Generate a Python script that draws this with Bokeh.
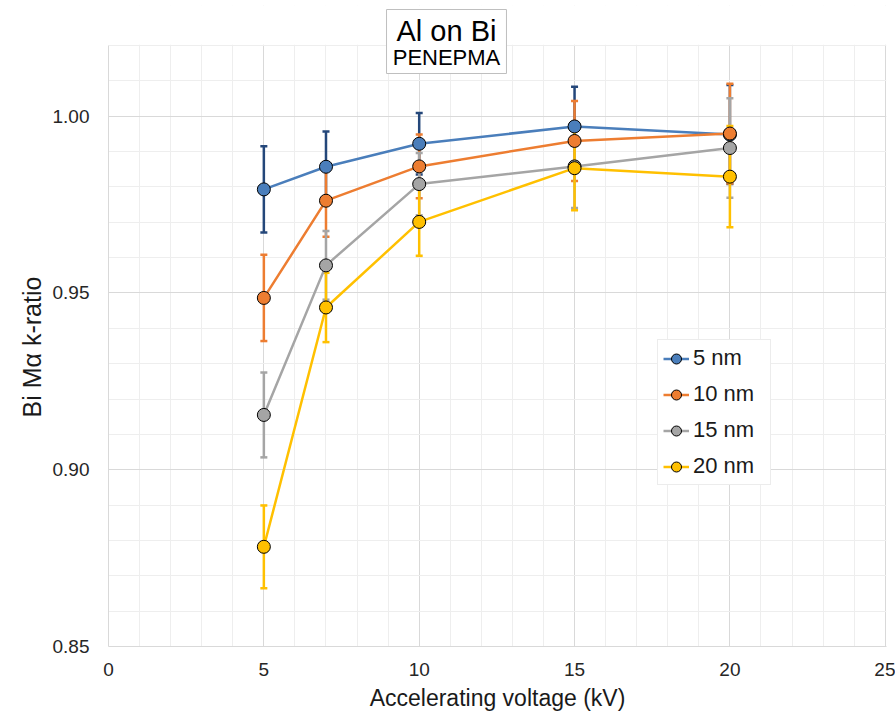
from bokeh.plotting import figure
from bokeh.models import (Range1d, FixedTicker, NumeralTickFormatter, Legend,
                          LegendItem, Label, Title)
from bokeh.embed import file_html
from bokeh.resources import INLINE

# ---- data ----
voltage_kv = [5, 7, 10, 15, 20]
series_names = ["5 nm", "10 nm", "15 nm", "20 nm"]
k_5nm = [0.9793, 0.9857, 0.9922, 0.9971, 0.9948]
k_10nm = [0.9486, 0.9761, 0.9858, 0.9930, 0.9951]
k_15nm = [0.9155, 0.9578, 0.9808, 0.9858, 0.9910]
k_20nm = [0.8782, 0.9459, 0.9701, 0.9853, 0.9829]
err_5nm = [0.0122, 0.0100, 0.0087, 0.0112, 0.0140]
err_10nm = [0.0122, 0.0102, 0.0090, 0.0113, 0.0141]
err_15nm = [0.0120, 0.0097, 0.0088, 0.0118, 0.0141]
err_20nm = [0.0117, 0.0098, 0.0096, 0.0119, 0.0143]
x_ticks = [0, 5, 10, 15, 20, 25]
x_minor_ticks = list(range(0, 26))
y_ticks = [0.85, 0.90, 0.95, 1.00]
y_minor_ticks = [0.86, 0.87, 0.88, 0.89, 0.91, 0.92, 0.93, 0.94, 0.96, 0.97,
                 0.98, 0.99, 1.01, 1.02]
x_min, x_max = 0, 25
y_min, y_max = 0.85, 1.02

values = [k_5nm, k_10nm, k_15nm, k_20nm]
errors = [err_5nm, err_10nm, err_15nm, err_20nm]
line_colors = ["#4a7ebb", "#ed7d31", "#a5a5a5", "#ffc000"]
err_colors = ["#24477a", "#ed7d31", "#a5a5a5", "#ffc000"]

FONT = "Liberation Sans"

# layout (pixels): plot area spans y 45..646; the frame is extended up to
# y=5 so the boxed title (which overlaps the plot top) is not clipped.
W, H = 895, 713
PLOT_TOP, PLOT_BOTTOM, FRAME_TOP = 45, 646, 5
y_end = y_max + (PLOT_TOP - FRAME_TOP) * (y_max - y_min) / (PLOT_BOTTOM - PLOT_TOP)

p = figure(width=W, height=H, output_backend="svg", toolbar_location=None,
           x_range=Range1d(x_min, x_max + 0.04), y_range=Range1d(y_min, y_end),
           min_border_left=108, min_border_right=9, min_border_top=FRAME_TOP,
           min_border_bottom=H - PLOT_BOTTOM)
p.outline_line_color = None
p.background_fill_color = "white"
p.border_fill_color = "white"

# axes
p.xaxis.ticker = FixedTicker(ticks=x_ticks, minor_ticks=x_minor_ticks)
p.yaxis.ticker = FixedTicker(ticks=y_ticks, minor_ticks=y_minor_ticks)
p.yaxis.formatter = NumeralTickFormatter(format="0.00")
p.yaxis.bounds = (y_min, y_max)
for ax in (p.xaxis[0], p.yaxis[0]):
    ax.major_tick_line_color = None
    ax.minor_tick_line_color = None
    ax.axis_line_color = "#d9d9d9"
    ax.major_label_text_font = FONT
    ax.major_label_text_font_size = "19px"
    ax.major_label_text_color = "#262626"
    ax.axis_label_text_font = FONT
    ax.axis_label_text_font_size = "23px"
    ax.axis_label_text_font_style = "normal"
    ax.axis_label_text_color = "#1a1a1a"
p.xaxis.major_label_standoff = 10
p.xaxis.axis_label_standoff = 6
p.yaxis.major_label_standoff = 13
p.xaxis.axis_label = "Accelerating voltage (kV)"

# y-axis title, placed along the plot area (not the extended frame)
ytitle = Title(text="Bi M\u03b1 k-ratio", align="left", offset=229, standoff=7,
               text_font=FONT, text_font_size="25px", text_font_style="normal",
               text_color="#1a1a1a")
p.add_layout(ytitle, "left")

# grids
for g in (p.xgrid[0], p.ygrid[0]):
    g.grid_line_color = "#d9d9d9"
    g.grid_line_width = 1
    g.minor_grid_line_color = "#eeeeee"
    g.minor_grid_line_width = 1

# white mask over the frame extension above y_max (hides grid lines there)
p.quad(left=[x_min - 1], right=[x_max + 1], bottom=[y_max + 0.0002],
       top=[y_end + 0.01], fill_color="white", line_color=None)

# error bars first
for vals, errs, col in zip(values, errors, err_colors):
    lower = [v - e for v, e in zip(vals, errs)]
    upper = [v + e for v, e in zip(vals, errs)]
    p.segment(x0=voltage_kv, y0=lower, x1=voltage_kv, y1=upper,
              line_color=col, line_width=2.5)
    p.scatter(x=voltage_kv, y=upper, marker="dash", size=7,
              line_color=col, line_width=2.5)
    p.scatter(x=voltage_kv, y=lower, marker="dash", size=7,
              line_color=col, line_width=2.5)

# lines + markers
items = []
for name, vals, col in zip(series_names, values, line_colors):
    lr = p.line(x=voltage_kv, y=vals, line_color=col, line_width=2.5)
    sr = p.scatter(x=voltage_kv, y=vals, marker="circle", size=13,
                   fill_color=col, line_color="black", line_width=1)
    items.append(LegendItem(label=name, renderers=[lr, sr]))

legend = Legend(items=items, location=(549, 161),
                border_line_color="#d9d9d9", border_line_width=1,
                background_fill_color="white", background_fill_alpha=1,
                label_text_font=FONT, label_text_font_size="22px",
                label_text_color="#1a1a1a",
                glyph_width=26, glyph_height=25, label_height=25,
                label_width=72,
                spacing=10, padding=5, label_standoff=4, margin=0)
p.add_layout(legend)

# boxed title (padding order: left, right, top, bottom)
title1 = Label(x=446, y=9, x_units="canvas", y_units="canvas",
               text="Al on Bi", text_align="center", text_baseline="top",
               text_font=FONT, text_font_size="29px", text_color="black",
               background_fill_color="white", border_line_color="#bfbfbf",
               border_line_width=1, padding=(10, 10, 5, 27))
title2 = Label(x=446, y=44, x_units="canvas", y_units="canvas",
               text="PENEPMA", text_align="center", text_baseline="top",
               text_font=FONT, text_font_size="22px", text_color="black",
               level="overlay")
p.add_layout(title1)
p.add_layout(title2)

open("out.html", "w").write(file_html(p, INLINE))
